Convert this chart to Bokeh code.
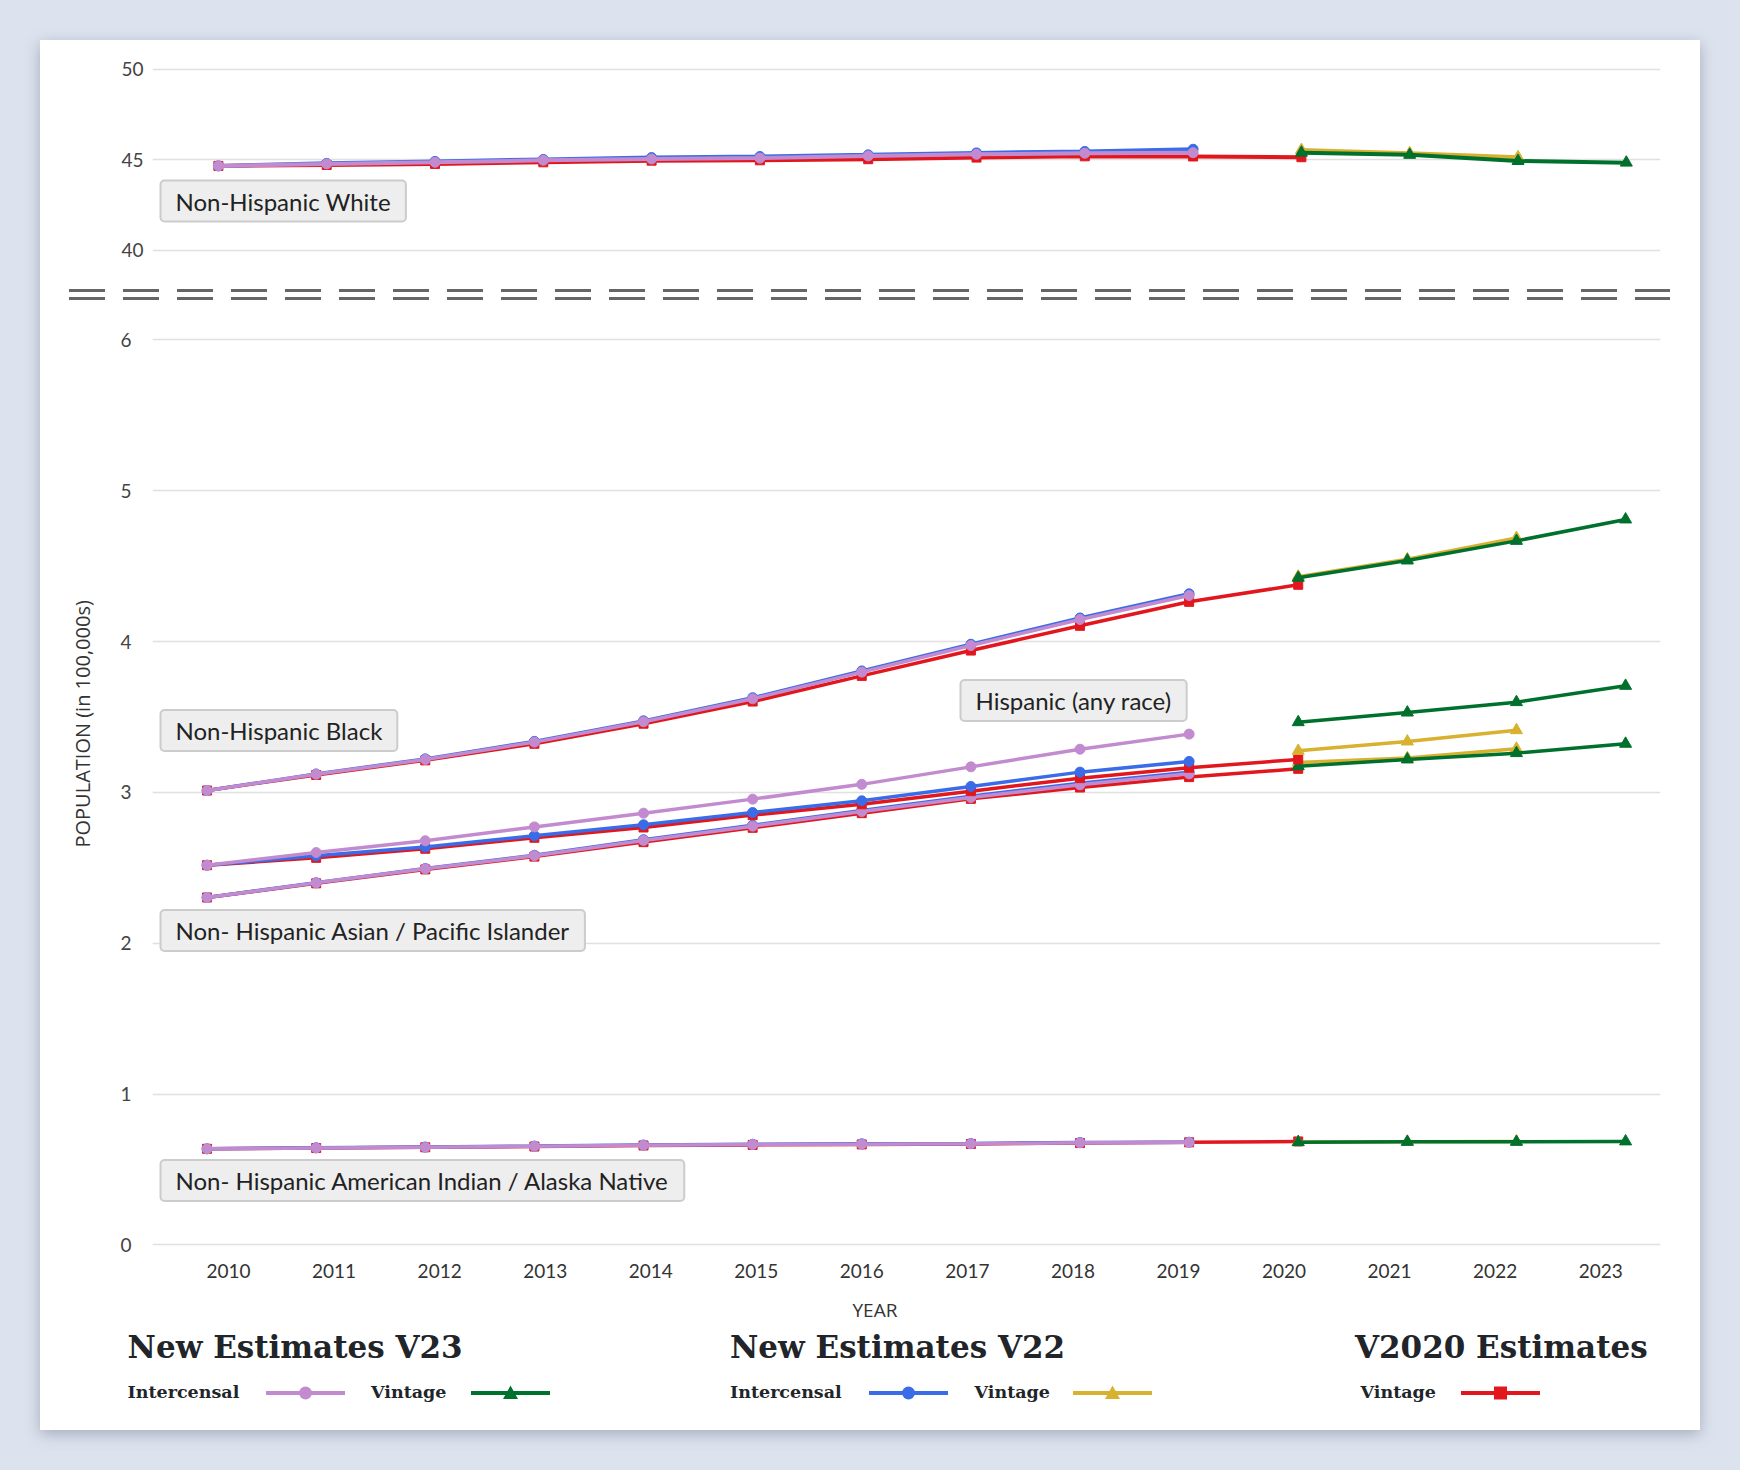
from bokeh.plotting import figure
from bokeh.models import (Range1d, FixedTicker, Label, CustomJSTickFormatter,
                          GlobalInlineStyleSheet, Column, Div, Title)
from bokeh.embed import file_html
from bokeh.resources import INLINE

# ---------------- data ----------------
years_ic = [2010, 2011, 2012, 2013, 2014, 2015, 2016, 2017, 2018, 2019]
years_v2020 = [2010, 2011, 2012, 2013, 2014, 2015, 2016, 2017, 2018, 2019, 2020]
years_v23 = [2020, 2021, 2022, 2023]
years_v22 = [2020, 2021, 2022]
tick_years = ["2010", "2011", "2012", "2013", "2014", "2015", "2016",
              "2017", "2018", "2019", "2020", "2021", "2022", "2023"]
upper_ticks = [40, 45, 50]
lower_ticks = [0, 1, 2, 3, 4, 5, 6]

white_v23_ic = [44.66, 44.77, 44.86, 44.97, 45.04, 45.09, 45.21, 45.30, 45.36, 45.39]
white_v22_ic = [44.66, 44.80, 44.91, 45.02, 45.12, 45.18, 45.27, 45.38, 45.46, 45.58]
white_v2020 = [44.66, 44.71, 44.77, 44.86, 44.95, 44.97, 45.03, 45.12, 45.19, 45.18, 45.14]
white_v23_vin = [45.39, 45.27, 44.93, 44.84]
white_v22_vin = [45.54, 45.36, 45.14]

black_v23_ic = [3.012, 3.120, 3.218, 3.333, 3.468, 3.620, 3.797, 3.973, 4.146, 4.305]
black_v22_ic = [3.012, 3.122, 3.222, 3.338, 3.474, 3.627, 3.805, 3.982, 4.156, 4.316]
black_v2020 = [3.012, 3.115, 3.212, 3.322, 3.455, 3.602, 3.772, 3.940, 4.104, 4.263, 4.376]
black_v23_vin = [4.422, 4.537, 4.667, 4.809]
black_v22_vin = [4.430, 4.545, 4.687]

hisp_v23_ic = [2.517, 2.601, 2.679, 2.771, 2.862, 2.955, 3.053, 3.169, 3.286, 3.386]
hisp_v22_ic = [2.517, 2.579, 2.637, 2.712, 2.785, 2.866, 2.944, 3.039, 3.134, 3.205]
hisp_v2020 = [2.517, 2.566, 2.626, 2.699, 2.767, 2.849, 2.921, 3.008, 3.094, 3.163, 3.218]
hisp_v23_vin = [3.465, 3.529, 3.598, 3.706]
hisp_v22_vin = [3.275, 3.337, 3.412]

asian_v23_ic = [2.303, 2.400, 2.493, 2.580, 2.681, 2.776, 2.873, 2.966, 3.050, 3.123]
asian_v22_ic = [2.303, 2.401, 2.495, 2.583, 2.686, 2.782, 2.880, 2.975, 3.060, 3.134]
asian_v2020 = [2.303, 2.397, 2.489, 2.574, 2.670, 2.765, 2.862, 2.957, 3.032, 3.101, 3.156]
asian_v23_vin = [3.173, 3.218, 3.260, 3.322]
asian_v22_vin = [3.198, 3.227, 3.289]

aian_v23_ic = [0.637, 0.643, 0.648, 0.654, 0.661, 0.666, 0.668, 0.670, 0.677, 0.679]
aian_v22_ic = [0.637, 0.644, 0.649, 0.655, 0.662, 0.667, 0.670, 0.672, 0.679, 0.681]
aian_v2020 = [0.637, 0.642, 0.647, 0.652, 0.659, 0.663, 0.666, 0.669, 0.675, 0.680, 0.686]
aian_v23_vin = [0.681, 0.683, 0.683, 0.686]
aian_v22_vin = [0.682, 0.684, 0.685]

group_labels = ["Non-Hispanic White", "Non-Hispanic Black", "Hispanic (any race)",
                "Non- Hispanic Asian / Pacific Islander",
                "Non- Hispanic American Indian / Alaska Native"]
legend_titles = ["New Estimates V23", "New Estimates V22", "V2020 Estimates"]
legend_items = ["Intercensal", "Vintage", "Intercensal", "Vintage", "Vintage"]
y_title = "POPULATION (in 100,000s)"
x_title = "YEAR"

# ---------------- style ----------------
PURPLE = "#c38bcf"
BLUE = "#3a6ce8"
GREEN = "#00702d"
YELLOW = "#d8b130"
RED = "#e2171d"
GRID = "#e0e0e0"
TICKC = "#444444"
TICK_FONT = "Lato"
BOX_FONT = "Lato"
SERIF = "DejaVu Serif"

CARD_X, CARD_Y = 40, 40          # card position on the page (px)
CARD_W = 1660
FR_L, FR_R = 152, 1660           # shared frame left / right (page px)


def base_fig(h, x_range, y_range, top, bottom):
    p = figure(width=CARD_W, height=h, x_range=x_range, y_range=y_range,
               output_backend="svg", toolbar_location=None,
               min_border_left=FR_L - CARD_X, min_border_right=CARD_X + CARD_W - FR_R,
               min_border_top=top, min_border_bottom=bottom)
    p.background_fill_color = "white"
    p.border_fill_color = "white"
    p.outline_line_color = None
    return p


def style_yaxis(ax, ticks, standoff):
    ax.ticker = FixedTicker(ticks=ticks)
    ax.axis_line_color = None
    ax.major_tick_line_color = None
    ax.minor_tick_line_color = None
    ax.major_tick_out = 0
    ax.major_tick_in = 0
    ax.major_label_standoff = standoff
    ax.major_label_text_font = TICK_FONT
    ax.major_label_text_font_size = "19px"
    ax.major_label_text_color = TICKC


def draw_group(p, ic23, ic22, v2020, vin23, vin22, lw, ms):
    p.line(years_v2020, v2020, line_color=RED, line_width=lw)
    p.scatter(years_v2020, v2020, marker="square", size=ms - 1, color=RED)
    p.line(years_ic, ic22, line_color=BLUE, line_width=lw)
    p.scatter(years_ic, ic22, marker="circle", size=ms, color=BLUE)
    p.line(years_v22, vin22, line_color=YELLOW, line_width=lw)
    p.scatter(years_v22, vin22, marker="triangle", size=ms + 2, color=YELLOW)
    p.line(years_v23, vin23, line_color=GREEN, line_width=lw)
    p.scatter(years_v23, vin23, marker="triangle", size=ms + 2, color=GREEN)
    p.line(years_ic, ic23, line_color=PURPLE, line_width=lw)
    p.scatter(years_ic, ic23, marker="circle", size=ms, color=PURPLE)


def box_label(p, x, y, text):
    p.add_layout(Label(x=x, y=y, text=text, text_align="left", text_baseline="middle",
                       text_font=BOX_FONT, text_font_size="24px", text_color="#222222",
                       background_fill_color="#eeeeee", border_line_color="#cccccc",
                       border_line_width=2, border_radius=4, padding=(15, 6)))


# ---------------- upper panel (page px: frame y 55..265) ----------------
UP_T, UP_B = 55, 265
UY_PER = 18.09
UX_2010, UX_PER = 217.9, 108.3
up_x0 = 2010 - (UX_2010 - FR_L) / UX_PER
up_x1 = 2010 + (FR_R - UX_2010) / UX_PER
up_y0 = 40 - (UP_B - 249.7) / UY_PER
up_y1 = 50 + (68.8 - UP_T) / UY_PER
up = base_fig(240, Range1d(up_x0, up_x1), Range1d(up_y0, up_y1), UP_T - 40, 280 - UP_B)
up.xaxis.visible = False
up.xgrid.visible = False
up.ygrid.ticker = FixedTicker(ticks=upper_ticks)
up.ygrid.grid_line_color = GRID
up.ygrid.grid_line_width = 1.5
style_yaxis(up.yaxis, upper_ticks, 9)
draw_group(up, white_v23_ic, white_v22_ic, white_v2020, white_v23_vin, white_v22_vin, 4, 10)


def ux(xr):
    return 2010 + (xr - UX_2010) / UX_PER


def uy(yr):
    return 50 - (yr - 68.8) / UY_PER


box_label(up, ux(160), uy(200.5), group_labels[0])

# ---------------- axis break (HTML strip, 32 px tall) ----------------
dash_css = ("position:absolute;left:29px;width:1601px;height:3.5px;"
            "background:repeating-linear-gradient(to right,#666666 0px,#666666 36px,"
            "transparent 36px,transparent 54px);")
brk = Div(width=CARD_W, height=32, margin=0,
          text=(f'<div style="position:relative;width:{CARD_W}px;height:32px;">'
                f'<div style="{dash_css}top:8.5px;"></div>'
                f'<div style="{dash_css}top:16.8px;"></div></div>'),
          styles={"background-color": "white"})

# ---------------- lower panel (page px: frame y 320..1246, figure to 1336) ----------------
LO_T, LO_B = 320, 1246
LO_FIG_B = 1336
LY_PER = 150.85
ZERO_Y = 1244.4
X0, X1 = 2009.5, 2023.32
lo_y0 = (ZERO_Y - LO_B) / LY_PER
lo_y1 = (ZERO_Y - LO_T) / LY_PER
low = base_fig(LO_FIG_B - 312, Range1d(X0, X1), Range1d(lo_y0, lo_y1),
               LO_T - 312, LO_FIG_B - LO_B)
low.xgrid.visible = False
low.ygrid.ticker = FixedTicker(ticks=lower_ticks)
low.ygrid.grid_line_color = GRID
low.ygrid.grid_line_width = 1.5
style_yaxis(low.yaxis, lower_ticks, 21)

xa = low.xaxis[0]
tick_pos = [round(2010.197 + 0.9673 * i, 4) for i in range(len(tick_years))]
xa.ticker = FixedTicker(ticks=tick_pos)
xa.formatter = CustomJSTickFormatter(args=dict(labels=tick_years), code="return labels[index];")
xa.axis_line_color = None
xa.major_tick_line_color = None
xa.minor_tick_line_color = None
xa.major_tick_out = 0
xa.major_tick_in = 0
xa.major_label_standoff = 17
xa.major_label_text_font = TICK_FONT
xa.major_label_text_font_size = "19px"
xa.major_label_text_color = "#333333"

# axis titles as side-panel titles (placed off-centre like the original)
low.add_layout(Title(text=y_title, align="left", offset=399, standoff=44,
                     text_font="Open Sans", text_font_size="20px",
                     text_font_style="normal", text_color="#333333"), "left")
low.add_layout(Title(text=x_title, align="left", offset=700, standoff=28,
                     text_font="Open Sans", text_font_size="19px",
                     text_font_style="normal", text_color="#333333"), "below")

draw_group(low, aian_v23_ic, aian_v22_ic, aian_v2020, aian_v23_vin, aian_v22_vin, 3.5, 10)
draw_group(low, asian_v23_ic, asian_v22_ic, asian_v2020, asian_v23_vin, asian_v22_vin, 3.5, 10)
draw_group(low, hisp_v23_ic, hisp_v22_ic, hisp_v2020, hisp_v23_vin, hisp_v22_vin, 3.5, 10)
draw_group(low, black_v23_ic, black_v22_ic, black_v2020, black_v23_vin, black_v22_vin, 3.5, 10)


def lx(xr):
    return X0 + (xr - FR_L) * (X1 - X0) / (FR_R - FR_L)


def ly(yr):
    return (ZERO_Y - yr) / LY_PER


box_label(low, lx(160), ly(730), group_labels[1])
box_label(low, lx(960), ly(700), group_labels[2])
box_label(low, lx(160), ly(930), group_labels[3])
box_label(low, lx(160), ly(1180), group_labels[4])

# ---------------- legend strip (HTML, page px converted to card-local) ----------------
LEG_TOP = LO_FIG_B
LEG_H = 1430 - LEG_TOP
HEAD_Y, ITEM_Y = 1347, 1393
head_x = [127.6, 730, 1355]
item_x = [127.6, 371, 730, 974.5, 1360.5]
sample_x = [265.5, 470.5, 869, 1073, 1460.5]
sample_c = [PURPLE, GREEN, BLUE, YELLOW, RED]
sample_m = ["circle", "triangle", "circle", "triangle", "square"]


def marker_svg(m, c):
    if m == "circle":
        return f'<circle cx="39.5" cy="9" r="6.5" fill="{c}"/>'
    if m == "square":
        return f'<rect x="33" y="2.5" width="13" height="13" fill="{c}"/>'
    return f'<polygon points="39.5,1.5 47,15 32,15" fill="{c}"/>'


parts = [f'<div style="position:relative;width:{CARD_W}px;height:{LEG_H}px;'
         f"font-family:'{SERIF}';color:#212529;font-weight:bold;\">"]
for t, x in zip(legend_titles, head_x):
    parts.append(f'<span style="position:absolute;left:{x - CARD_X}px;top:{HEAD_Y - LEG_TOP}px;'
                 f'transform:translateY(-50%);font-size:31px;line-height:1;white-space:nowrap;">{t}</span>')
for t, x in zip(legend_items, item_x):
    parts.append(f'<span style="position:absolute;left:{x - CARD_X}px;top:{ITEM_Y - LEG_TOP}px;'
                 f'transform:translateY(-50%);font-size:17.5px;line-height:1;white-space:nowrap;">{t}</span>')
for x, c, m in zip(sample_x, sample_c, sample_m):
    parts.append(f'<svg style="position:absolute;left:{x - CARD_X}px;top:{ITEM_Y - LEG_TOP - 9}px;" '
                 f'width="80" height="18"><line x1="0" y1="9" x2="79" y2="9" stroke="{c}" '
                 f'stroke-width="4"/>{marker_svg(m, c)}</svg>')
parts.append('</div>')
leg = Div(width=CARD_W, height=LEG_H, margin=0, text="".join(parts),
          styles={"background-color": "white", "overflow": "visible"})

card = Column(children=[up, brk, low, leg], spacing=0, margin=(CARD_Y, 0, 0, CARD_X),
              styles={"background-color": "white",
                      "box-shadow": "0 4px 14px rgba(60,70,95,0.35)"},
              stylesheets=[GlobalInlineStyleSheet(css="html, body { background-color: #dde3ee; }")])

open("out.html", "w").write(file_html(card, INLINE))
